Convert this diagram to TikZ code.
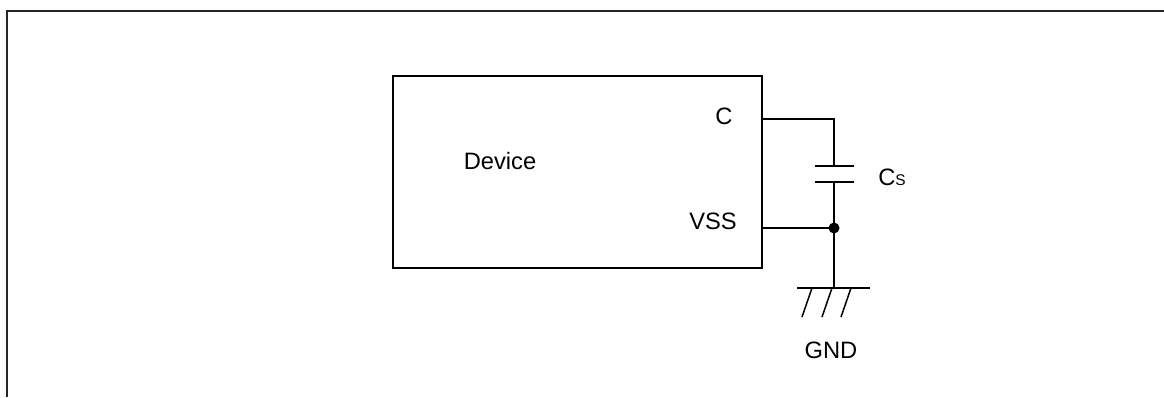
\documentclass[tikz,border=0pt]{standalone}
\usepackage{fontspec}
\setmainfont{Liberation Sans}
\usetikzlibrary{positioning, calc}

\begin{document}
\begin{tikzpicture}[x=0.02cm, y=-0.02cm, font=\fontsize{13.5}{16}\selectfont,
    frame/.style={line width=1.2pt, draw=black!85},
    devbox/.style={draw, line width=1.1pt, minimum width=7.38cm, minimum height=3.84cm, inner sep=0pt},
    wire/.style={line width=0.85pt},
    plate/.style={line width=1.1pt},
    lbl/.style={inner sep=0pt},
  ]
    \useasboundingbox (0,0) rectangle (1164,397);

    % outer frame (top and left only)
    \coordinate (frameBL) at (7,397);
    \coordinate (frameTL) at (7,11);
    \coordinate (frameTR) at (1164,11);
    \draw[frame] (frameBL) -- (frameTL) -- (frameTR);

    % Device block
    \node[devbox] (dev) at (577.5,172) {};
    \node[lbl] (devLabel) at (500,161) {Device};
    \node[lbl] (pinC) at (724,116) {C};
    \node[lbl] (pinVSS) at (713,221) {VSS};

    % pin ends and junctions
    \coordinate (outC) at (dev.east |- 0,119);
    \coordinate (outVSS) at (dev.east |- 0,228);
    \coordinate (cornerC) at (834,119);
    \coordinate (capTop) at (834,166);
    \coordinate (capBot) at (834,182);
    \coordinate (jn) at (834,228);
    \coordinate (gnd) at (834,288);

    % wires
    \draw[wire] (outC) -- (cornerC) -- (capTop);
    \draw[wire] (capBot) -- (jn);
    \draw[wire] (outVSS) -- (jn) -- (gnd);
    \fill (jn) circle (5.5);

    % capacitor Cs
    \draw[plate] ($(capTop)+(-19,0)$) -- ($(capTop)+(20,0)$);
    \draw[plate] ($(capBot)+(-19,0)$) -- ($(capBot)+(20,0)$);
    \node[lbl, anchor=base west] (csLabel) at (878,185) {C\raisebox{-0.4pt}{\fontsize{8.8}{10}\selectfont S}};

    % ground symbol
    \draw[plate] ($(gnd)+(-37,0)$) -- ($(gnd)+(36,0)$);
    \foreach \dx in {-22,-2,17} {
      \draw[wire] ($(gnd)+(\dx,0)$) -- ++(-10,29);
    }
    \node[lbl] (gndLabel) at (831,350) {GND};
\end{tikzpicture}
\end{document}
